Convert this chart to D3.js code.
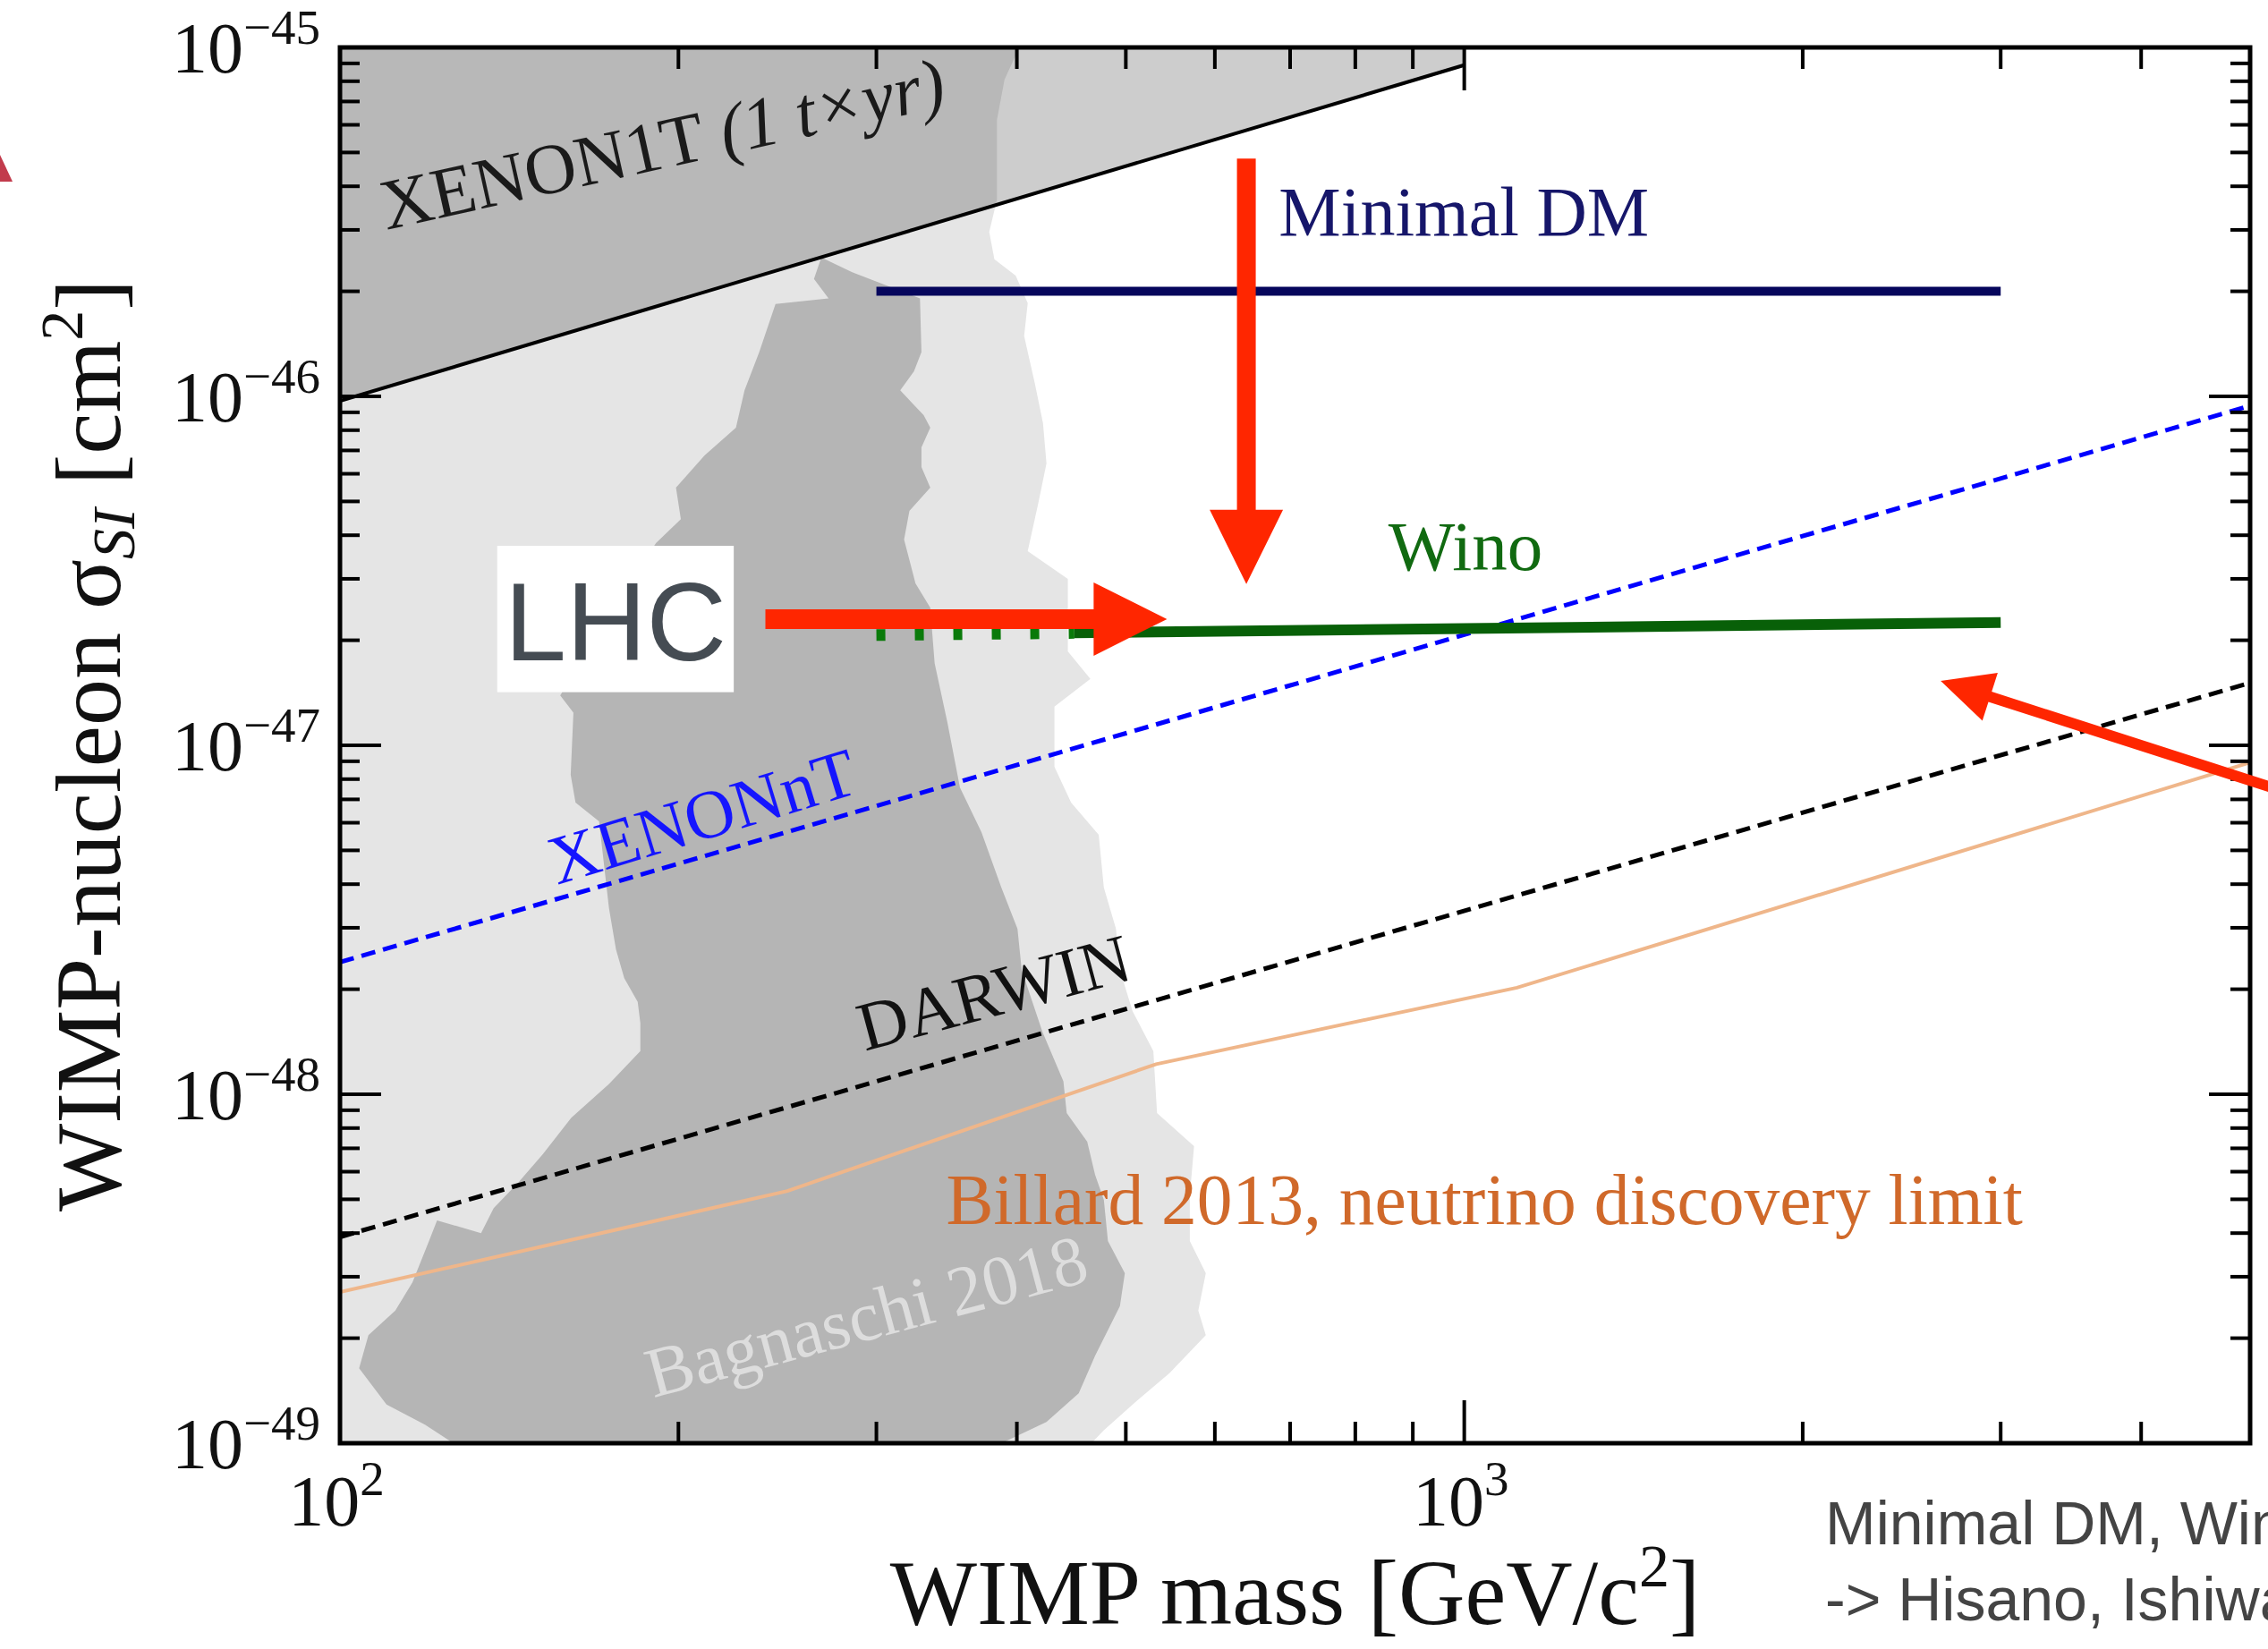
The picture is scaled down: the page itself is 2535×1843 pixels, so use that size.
<!DOCTYPE html>
<html><head><meta charset="utf-8">
<script src="https://cdn.jsdelivr.net/npm/d3@7"></script>
<style>html,body{margin:0;padding:0;background:#fff;overflow:hidden}</style>
</head><body>
<svg id="c" width="2535" height="1843"></svg>
<script>
// ---------------- data ----------------
const massDomain = [100, 5000];          // GeV/c^2
const sigmaDomain = [1e-49, 1e-45];      // cm^2
const yTickExponents = [-45, -46, -47, -48, -49];
const xTickExponents = [2, 3];

// Bagnaschi 2018 outer (light) region: right boundary, top to bottom [mass, sigma]
const bagnaschiOuter = [
  [402,1e-45],[390,8.09e-46],[384,6.20e-46],[384,3.66e-46],[378,2.96e-46],[382,2.47e-46],
  [399,2.22e-46],[409,1.85e-46],[406,1.49e-46],[415,1.09e-46],[422,8.38e-47],[425,6.42e-47],
  [418,4.95e-47],[409,3.60e-47],[444,3.00e-47],[444,1.86e-47],[465,1.55e-47],[432,1.29e-47],
  [432,8.68e-48],[447,6.85e-48],[473,5.54e-48],[478,3.91e-48],[490,2.98e-48],[494,2.27e-48],
  [507,1.73e-48],[529,1.33e-48],[533,8.83e-49],[575,7.10e-49],[570,5.13e-49],[570,3.80e-49],
  [589,3.07e-49],[580,2.40e-49],[589,2.04e-49],[547,1.59e-49],[511,1.32e-49],[478,1.09e-49],[466,1e-49]
];
// Bagnaschi 2018 inner (dark) region outline [mass, sigma]
const bagnaschiInner = [
  [268,2.50e-46],[285.5,2.27e-46],[328,1.91e-46],[329,1.34e-46],[324,1.18e-46],[315,1.04e-46],
  [330.5,8.83e-47],[335,8.13e-47],[329,7.14e-47],[329,6.27e-47],[335,5.48e-47],[321,4.70e-47],
  [317.5,3.89e-47],[325,2.91e-47],[335,2.48e-47],[338,1.72e-47],[347,1.16e-47],[356,7.57e-48],
  [372,5.64e-48],[387.5,3.91e-48],[400.5,2.98e-48],[404,2.27e-48],[421.5,1.51e-48],[440,1.09e-48],
  [443,8.83e-49],[462,7.31e-49],[469.5,5.88e-49],[478,4.98e-49],[482,3.80e-49],[499,3.07e-49],
  [494,2.47e-49],[469.5,1.78e-49],[454,1.39e-49],[425,1.15e-49],[398,1.04e-49],[387.5,1e-49],
  [126,1e-49],[125,1.02e-49],[119,1.13e-49],[110,1.29e-49],[104,1.64e-49],[106,2.04e-49],
  [112,2.40e-49],[116,2.89e-49],[120,3.80e-49],[122,4.35e-49],[133.5,4.00e-49],[137,4.72e-49],
  [144,5.57e-49],[151.5,6.73e-49],[160.6,8.57e-49],[173.5,1.07e-48],[185,1.33e-48],[185,1.60e-48],
  [184,1.84e-48],[179,2.15e-48],[176,2.60e-48],[173.5,3.41e-48],[170,6.05e-48],[162,6.85e-48],
  [160.4,8.23e-48],[161.3,1.24e-47],[157,1.39e-47],[173,2.33e-47],[191,3.80e-47],[201,4.45e-47],
  [199,5.48e-47],[211,6.77e-47],[225,8.13e-47],[229,1.04e-46],[236,1.34e-46],[244,1.84e-46],
  [272,1.91e-46],[264,2.17e-46]
];
const xenon1t   = [[100, 9.7e-47], [1000, 8.9e-46]];
const xenonnt   = [[100, 2.39e-48], [5000, 9.4e-47]];
const darwin    = [[100, 3.9e-49], [5000, 1.51e-47]];
const billard   = [[100, 2.71e-49], [250, 5.28e-49], [532, 1.22e-48], [1114, 2.02e-48], [5000, 8.93e-48]];
const minimalDM = [[300, 2.0e-46], [3000, 2.0e-46]];
const winoDotted = [[300, 2.07e-47], [450, 2.10e-47]];
const winoSolid  = [[450, 2.10e-47], [1000, 2.16e-47], [3000, 2.25e-47]];

// label anchors [mass, sigma]
const labelMinimalDM = [684, 2.89e-46];
const labelWino      = [856, 3.18e-47];
const labelBillard   = [346, 4.25e-49];
const labelXenon1t   = [110, 3.0e-46];
const labelXenonnt   = [156, 3.98e-48];
const labelDarwin    = [293, 1.33e-48];
const labelBagnaschi = [190, 1.35e-49];

// slide annotations [mass, sigma]
const arrowDown = [[640, 4.8e-46], [640, 2.9e-47]];
const arrowLHC  = [[239, 2.3e-47], [544, 2.3e-47]];
const arrowDiag = [[5800, 6.8e-48], [2653, 1.53e-47]];
const lhcBox    = [[138, 3.73e-47], [224, 1.42e-47]];

// ---------------- drawing ----------------
const W = 2535, H = 1843;
const P = {left: 380, right: 2515, top: 53, bottom: 1613};
const x = d3.scaleLog().domain(massDomain).range([P.left, P.right]);
const y = d3.scaleLog().domain(sigmaDomain).range([P.bottom, P.top]);
const serif = '"Liberation Serif","Times New Roman",Times,serif';
const sans = '"Liberation Sans",Arial,Helvetica,sans-serif';

const svg = d3.select('#c');
svg.append('rect').attr('width', W).attr('height', H).attr('fill', '#fff');
svg.append('defs').append('clipPath').attr('id', 'clip').append('rect')
  .attr('x', P.left).attr('y', P.top).attr('width', P.right - P.left).attr('height', P.bottom - P.top);
const g = svg.append('g').attr('clip-path', 'url(#clip)');
const line = d3.line().x(d => x(d[0])).y(d => y(d[1]));
const poly = pts => line(pts) + 'Z';

// regions
g.append('path').attr('d', poly([[massDomain[0], sigmaDomain[1]], ...bagnaschiOuter, [massDomain[0], sigmaDomain[0]]]))
  .attr('fill', '#e5e5e5');
g.append('path').attr('d', poly(bagnaschiInner)).attr('fill', '#b5b5b5');
g.append('path').attr('d', poly([xenon1t[0], xenon1t[1], [xenon1t[1][0], sigmaDomain[1]], [xenon1t[0][0], sigmaDomain[1]]]))
  .attr('fill', '#cdcdcd').style('mix-blend-mode', 'multiply');

// curves
g.append('path').attr('d', line(xenon1t)).attr('fill', 'none').attr('stroke', '#000').attr('stroke-width', 4);
g.append('path').attr('d', line(billard)).attr('fill', 'none').attr('stroke', '#efb68a').attr('stroke-width', 4);
g.append('path').attr('d', line(darwin)).attr('fill', 'none').attr('stroke', '#000').attr('stroke-width', 5).attr('stroke-dasharray', '16,9');
g.append('path').attr('d', line(xenonnt)).attr('fill', 'none').attr('stroke', '#0000ff').attr('stroke-width', 5).attr('stroke-dasharray', '16,9');
g.append('path').attr('d', line(minimalDM)).attr('fill', 'none').attr('stroke', '#06065c').attr('stroke-width', 10);
g.append('path').attr('d', line(winoDotted)).attr('fill', 'none').attr('stroke', '#0a7a0a').attr('stroke-width', 13).attr('stroke-dasharray', '10,33');
g.append('path').attr('d', line(winoSolid)).attr('fill', 'none').attr('stroke', '#086008').attr('stroke-width', 12);

// frame + ticks
const ax = svg.append('g').attr('stroke', '#000').attr('stroke-width', 4);
const isMajor = v => Math.abs(Math.log10(v) - Math.round(Math.log10(v))) < 1e-9;
x.ticks().filter(v => v > massDomain[0] && v < massDomain[1]).forEach(v => {
  const L = isMajor(v) ? 48 : 24, px = x(v);
  ax.append('line').attr('x1', px).attr('x2', px).attr('y1', P.bottom).attr('y2', P.bottom - L);
  ax.append('line').attr('x1', px).attr('x2', px).attr('y1', P.top).attr('y2', P.top + L);
});
y.ticks().filter(v => v > sigmaDomain[0] * 1.0001 && v < sigmaDomain[1] * 0.9999).forEach(v => {
  const L = isMajor(v) ? 46 : 22, py = y(v);
  ax.append('line').attr('y1', py).attr('y2', py).attr('x1', P.left).attr('x2', P.left + L);
  ax.append('line').attr('y1', py).attr('y2', py).attr('x1', P.right).attr('x2', P.right - L);
});
svg.append('rect').attr('x', P.left).attr('y', P.top).attr('width', P.right - P.left).attr('height', P.bottom - P.top)
  .attr('fill', 'none').attr('stroke', '#000').attr('stroke-width', 5);

// tick labels
yTickExponents.forEach(e => {
  const t = svg.append('text').attr('x', 358).attr('y', y(Math.pow(10, e)) + 28)
    .attr('text-anchor', 'end').attr('font-family', serif).attr('font-size', 80).attr('fill', '#111');
  t.append('tspan').text('10');
  t.append('tspan').attr('dy', -32).attr('font-size', 55).text('\u2212' + Math.abs(e));
});
xTickExponents.forEach(e => {
  const t = svg.append('text').attr('x', x(Math.pow(10, e)) - 4).attr('y', 1705)
    .attr('text-anchor', 'middle').attr('font-family', serif).attr('font-size', 80).attr('fill', '#111');
  t.append('tspan').text('10');
  t.append('tspan').attr('dy', -34).attr('font-size', 55).text(String(e));
});

// axis titles
const xt = svg.append('text').attr('x', (P.left + P.right) / 2).attr('y', 1815).attr('text-anchor', 'middle')
  .attr('font-family', serif).attr('font-size', 103).attr('fill', '#111');
xt.append('tspan').text('WIMP mass [GeV/c');
xt.append('tspan').attr('dy', -42).attr('font-size', 68).text('2');
xt.append('tspan').attr('dy', 42).text(']');

const yt = svg.append('text').attr('transform', `translate(134,${(P.top + P.bottom) / 2}) rotate(-90)`).attr('text-anchor', 'middle')
  .attr('font-family', serif).attr('font-size', 104).attr('fill', '#111');
yt.append('tspan').text('WIMP-nucleon \u03C3');
yt.append('tspan').attr('dy', 16).attr('font-size', 68).attr('font-style', 'italic').text('SI');
yt.append('tspan').attr('dy', -16).text(' [cm');
yt.append('tspan').attr('dy', -42).attr('font-size', 68).text('2');
yt.append('tspan').attr('dy', 42).text(']');

// in-plot labels
function label(pos, txt, color, rot, size) {
  return svg.append('text').attr('transform', `translate(${x(pos[0])},${y(pos[1])}) rotate(${rot || 0})`)
    .attr('font-family', serif).attr('font-size', size || 78).attr('fill', color).text(txt);
}
label(labelMinimalDM, 'Minimal DM', '#16166a', 0, 78);
label(labelWino, 'Wino', '#116a11', 0, 79);
label(labelBillard, 'Billard 2013, neutrino discovery limit', '#d0692a', 0, 79.5);
const x1t = label(labelXenon1t, 'XENON1T ', '#1a1a1a', -12.5, 80);
x1t.append('tspan').attr('font-style', 'italic').text('(1 t\u00D7yr)');
label(labelXenonnt, 'XENONnT', '#1515ff', -17, 77);
label(labelDarwin, 'DARWIN', '#111', -15, 77);
label(labelBagnaschi, 'Bagnaschi 2018', '#dddddd', -15, 79);

// ---------------- slide annotations ----------------
function arrowPath(p1, p2, sw, hl, hw) {
  const [x1, y1] = [x(p1[0]), y(p1[1])], [x2, y2] = [x(p2[0]), y(p2[1])];
  const dx = x2 - x1, dy = y2 - y1, L = Math.hypot(dx, dy), ux = dx / L, uy = dy / L, px = -uy, py = ux;
  const bx = x2 - ux * hl, by = y2 - uy * hl;
  const pts = [[x1 + px * sw / 2, y1 + py * sw / 2], [bx + px * sw / 2, by + py * sw / 2], [bx + px * hw / 2, by + py * hw / 2],
    [x2, y2], [bx - px * hw / 2, by - py * hw / 2], [bx - px * sw / 2, by - py * sw / 2], [x1 - px * sw / 2, y1 - py * sw / 2]];
  return 'M' + pts.map(p => p.join(',')).join('L') + 'Z';
}
const red = '#ff2600';
svg.append('path').attr('d', arrowPath(arrowDown[0], arrowDown[1], 21, 83, 82)).attr('fill', red);
svg.append('rect').attr('x', x(lhcBox[0][0])).attr('y', y(lhcBox[0][1]))
  .attr('width', x(lhcBox[1][0]) - x(lhcBox[0][0])).attr('height', y(lhcBox[1][1]) - y(lhcBox[0][1])).attr('fill', '#fff');
svg.append('text').attr('x', (x(lhcBox[0][0]) + x(lhcBox[1][0])) / 2).attr('y', (y(lhcBox[0][1]) + y(lhcBox[1][1])) / 2 + 46)
  .attr('text-anchor', 'middle').attr('font-family', sans).attr('font-size', 124).attr('fill', '#454c53').text('LHC');
svg.append('path').attr('d', arrowPath(arrowLHC[0], arrowLHC[1], 22, 82, 82)).attr('fill', red);
svg.append('path').attr('d', arrowPath(arrowDiag[0], arrowDiag[1], 12, 58, 56)).attr('fill', red);

// slide decorations
svg.append('path').attr('d', 'M0,173L14,203L0,203Z').attr('fill', '#c23b4c');
const note = svg.append('text').attr('font-family', sans).attr('font-size', 68).attr('fill', '#444');
note.append('tspan').attr('x', 2040).attr('y', 1726).text('Minimal DM, Wino');
note.append('tspan').attr('x', 2040).attr('y', 1811).text('-> Hisano, Ishiwata, Nagata');
</script>
</body></html>
